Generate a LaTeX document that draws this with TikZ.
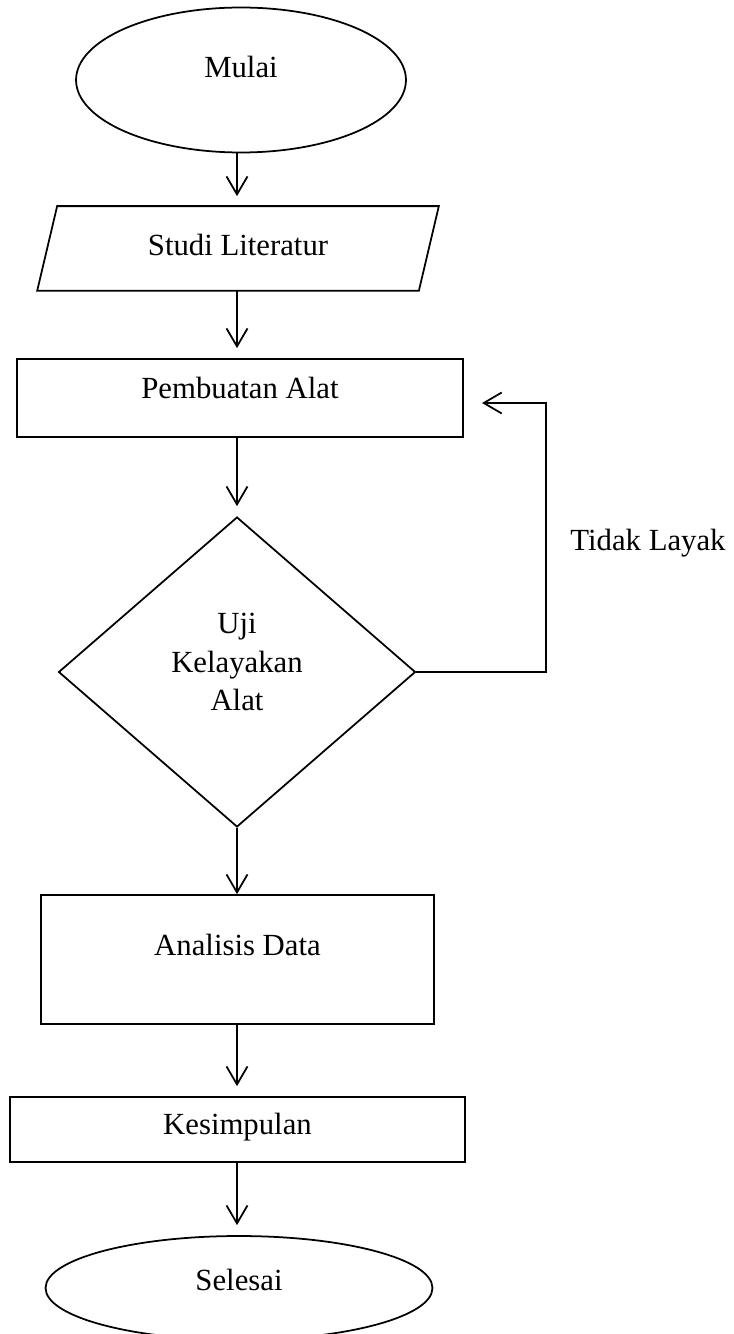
\documentclass[tikz,border=0pt]{standalone}
\usepackage{fontspec}
\setmainfont{Liberation Serif}
\usetikzlibrary{arrows.meta,shapes.geometric}

\begin{document}
\begin{tikzpicture}[x=0.02cm,y=-0.02cm,line width=1pt,
  every node/.style={font=\fontsize{17.5}{21.8}\selectfont},
  arr/.style={-{Straight Barb[length=3.6mm,width=4.2mm]},shorten >=2mm},
  kotak/.style={draw,rectangle,inner sep=0pt},
  bulat/.style={draw,ellipse,inner sep=0pt}]
\useasboundingbox (0,0) rectangle (733,1334);
% bentuk
\node[bulat,minimum width=6.6cm,minimum height=2.9cm](mulai) at(241,80){};
\node[inner sep=0pt,minimum width=7.6cm,minimum height=1.66cm](studi) at(238,248.5){};
\draw([xshift=0.2cm]studi.north west)--([xshift=0.2cm]studi.north east)
  --([xshift=-0.2cm]studi.south east)--([xshift=-0.2cm]studi.south west)--cycle;
\node[kotak,minimum width=8.92cm,minimum height=1.56cm](buat) at(240,398){};
\node[draw,diamond,inner sep=0pt,minimum width=7.14cm,minimum height=6.2cm](uji) at(237,672){};
\node[kotak,minimum width=7.86cm,minimum height=2.58cm](analisis) at(237.5,959.5){};
\node[kotak,minimum width=9.1cm,minimum height=1.3cm](simpul) at(237.5,1129.5){};
\node[bulat,minimum width=7.74cm,minimum height=2.08cm](selesai) at(239,1288){};
% teks
\node(tmulai) at(241,67){Mulai};
\node(tstudi) at(238,245){Studi Literatur};
\node(tbuat) at(240,388){Pembuatan Alat};
\node[align=center](tuji) at(237,662){Uji\\Kelayakan\\Alat};
\node(tanalisis) at(237.5,945){Analisis Data};
\node(tsimpul) at(237.5,1127){Kesimpulan};
\node(tselesai) at(239,1280){Selesai};
\node(ttidak) at(648,543){Tidak Layak};
% panah
\draw[arr](mulai.south-|uji.north)--(studi.north-|uji.north);
\draw[arr](studi.south-|uji.north)--(buat.north-|uji.north);
\draw[arr](buat.south-|uji.north)--(uji.north);
\draw[arr,shorten >=0pt](uji.south)--(analisis.north-|uji.south);
\draw[arr](analisis.south-|uji.south)--(simpul.north-|uji.south);
\draw[arr](simpul.south-|uji.south)--(selesai.north-|uji.south);
\coordinate(sudut) at(546,403);\coordinate(balik) at(482,403);
\draw[arr,shorten >=0pt](uji.east)-|(sudut)--(balik);
\end{tikzpicture}
\end{document}
